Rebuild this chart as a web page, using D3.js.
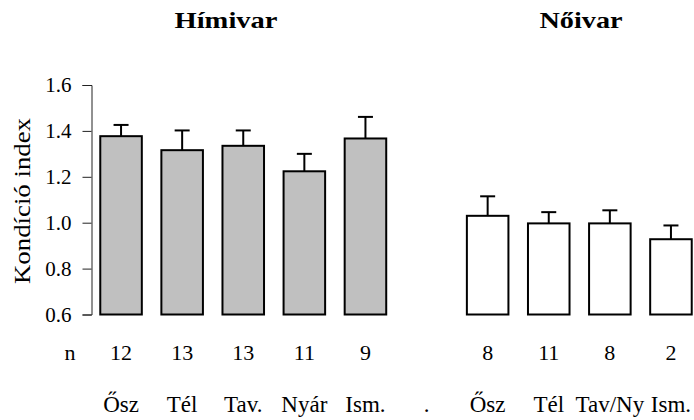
<!DOCTYPE html>
<html>
<head>
<meta charset="utf-8">
<script src="https://cdn.jsdelivr.net/npm/d3@7"></script>
<style>
  html, body { margin: 0; padding: 0; background: #fff; }
</style>
</head>
<body>
<svg id="chart" width="694" height="420" font-family="Liberation Serif, Times New Roman, serif"></svg>
<script>
// Condition index by season, males (grey) and females (white)
const categories = ["Ősz", "Tél", "Tav.", "Nyár", "Ism.", ".", "Ősz", "Tél", "Tav/Ny", "Ism."];
const groupOf    = ["m", "m", "m", "m", "m", "gap", "f", "f", "f", "f"];
const means      = [1.377, 1.316, 1.335, 1.224, 1.367, null, 1.030, 0.997, 0.997, 0.928];
const errors     = [0.049, 0.086, 0.067, 0.076, 0.094, null, 0.085, 0.049, 0.057, 0.060];
const sampleN    = ["12", "13", "13", "11", "9", "", "8", "11", "8", "2"];
const yTicks     = [0.6, 0.8, 1.0, 1.2, 1.4, 1.6];
const groupTitles = ["Hímivar", "Nőivar"];

const FONT = "Liberation Serif";
const svg = d3.select("#chart");

const x = d3.scaleBand()
  .domain(d3.range(categories.length))
  .range([90.5, 701.5])
  .paddingInner(0.32)
  .paddingOuter(0.16);

const y = d3.scaleLinear().domain([0.6, 1.6]).range([314.5, 85]);

// y axis
const yAxis = svg.append("g")
  .attr("transform", "translate(91.5,0)")
  .call(d3.axisLeft(y).tickValues(yTicks).tickFormat(d3.format(".1f")).tickSize(9).tickSizeOuter(9).tickPadding(11));
yAxis.attr("font-family", FONT).attr("font-size", 21);
yAxis.select(".domain").attr("stroke", "#222").attr("stroke-width", 1);
yAxis.selectAll(".tick line").attr("stroke", "#222");
yAxis.selectAll(".tick text").attr("fill", "#000");

svg.append("text")
  .attr("transform", "translate(30,201) rotate(-90)")
  .attr("text-anchor", "middle")
  .attr("font-family", FONT)
  .attr("font-size", 24)
  .attr("textLength", 166)
  .attr("lengthAdjust", "spacingAndGlyphs")
  .text("Kondíció index");

// bars
const idx = d3.range(categories.length).filter(i => means[i] !== null);
svg.append("g").selectAll("rect")
  .data(idx)
  .join("rect")
  .attr("x", i => x(i))
  .attr("width", x.bandwidth())
  .attr("y", i => y(means[i]))
  .attr("height", i => y(0.6) - y(means[i]))
  .attr("fill", i => groupOf[i] === "m" ? "#c0c0c0" : "#fff")
  .attr("stroke", "#000")
  .attr("stroke-width", 2);

// error bars (upper only)
const eb = svg.append("g").attr("stroke", "#000").attr("stroke-width", 2);
eb.selectAll("line.v")
  .data(idx)
  .join("line")
  .attr("class", "v")
  .attr("x1", i => x(i) + x.bandwidth() / 2)
  .attr("x2", i => x(i) + x.bandwidth() / 2)
  .attr("y1", i => y(means[i]))
  .attr("y2", i => y(means[i] + errors[i]));
eb.selectAll("line.cap")
  .data(idx)
  .join("line")
  .attr("class", "cap")
  .attr("x1", i => x(i) + x.bandwidth() / 2 - 7.5)
  .attr("x2", i => x(i) + x.bandwidth() / 2 + 7.5)
  .attr("y1", i => y(means[i] + errors[i]))
  .attr("y2", i => y(means[i] + errors[i]));

// sample sizes
const lab = svg.append("g").attr("font-family", FONT).attr("text-anchor", "middle");
lab.append("text").attr("x", 70).attr("y", 360).attr("font-size", 22).text("n");
lab.append("g").attr("font-size", 22).selectAll("text")
  .data(d3.range(categories.length))
  .join("text")
  .attr("x", i => x(i) + x.bandwidth() / 2)
  .attr("y", 360)
  .text(i => sampleN[i]);

// season labels
lab.append("g").attr("font-size", 23).selectAll("text")
  .data(d3.range(categories.length))
  .join("text")
  .attr("x", i => x(i) + x.bandwidth() / 2)
  .attr("y", 412)
  .text(i => categories[i]);

// group titles
const titleX = [226, 581];
const titleW = [103, 83];
svg.append("g").selectAll("text")
  .data(groupTitles)
  .join("text")
  .attr("x", (d, i) => titleX[i] - titleW[i] / 2)
  .attr("y", 28)
  .attr("textLength", (d, i) => titleW[i])
  .attr("lengthAdjust", "spacingAndGlyphs")
  .attr("font-family", FONT)
  .attr("font-size", 23)
  .attr("font-weight", "bold")
  .text(d => d);
</script>
</body>
</html>
